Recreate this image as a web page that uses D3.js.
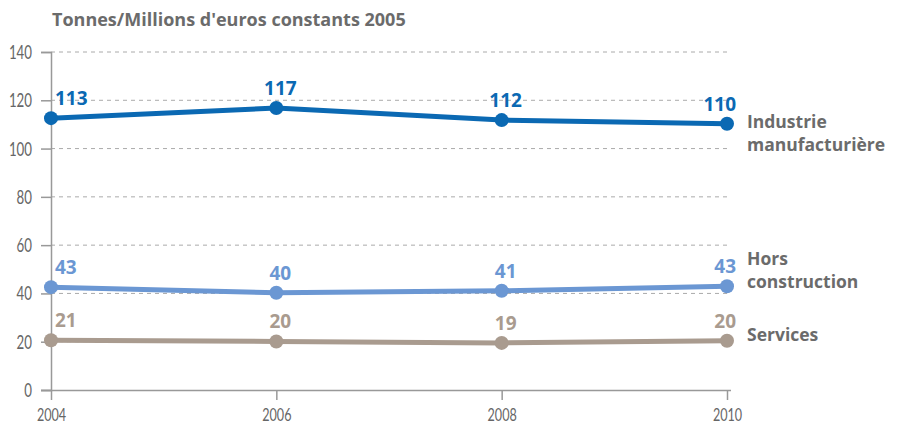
<!DOCTYPE html>
<html>
<head>
<meta charset="utf-8">
<script src="https://cdn.jsdelivr.net/npm/d3@7"></script>
<style>
  body { margin: 0; background: #fff; }
  text { font-family: "Open Sans", Lato, sans-serif; }
  .tick-lbl { font-family: Lato, sans-serif; }
</style>
</head>
<body>
<div id="chart"></div>
<script>
const svgWidth = 903;
const svgHeight = 427;

const years = [2004, 2006, 2008, 2010];
const yTicks = [0, 20, 40, 60, 80, 100, 120, 140];

const industrie = [112.6, 116.8, 111.8, 110.3];
const horsConstruction = [42.6, 40.3, 41.1, 43.0];
const services = [20.6, 20.1, 19.5, 20.4];

const industrieLabels = ['113', '117', '112', '110'];
const horsLabels = ['43', '40', '41', '43'];
const servicesLabels = ['21', '20', '19', '20'];

const series = [
    { name: ['Industrie', 'manufacturière'], values: industrie, labels: industrieLabels, color: '#0b69b3', legendY: 128 },
    { name: ['Hors', 'construction'], values: horsConstruction, labels: horsLabels, color: '#6b97d3', legendY: 265 },
    { name: ['Services'], values: services, labels: servicesLabels, color: '#a99b8f', legendY: 341 }
];

const x = d3.scaleLinear().domain([2004, 2010]).range([51, 727]);
const y = d3.scaleLinear().domain([0, 140]).range([390, 52]);

const narrow = 0.7;

const svg = d3.select('#chart')
    .append('svg')
    .attr('width', svgWidth)
    .attr('height', svgHeight);

// title
svg.append('text')
    .attr('x', 52)
    .attr('y', 26)
    .attr('fill', '#6b6b6b')
    .attr('font-size', 18)
    .attr('font-weight', 'bold')
    .text("Tonnes/Millions d'euros constants 2005");

// dashed grid
svg.append('g').selectAll('line')
    .data(yTicks.filter(d => d > 0))
    .join('line')
    .attr('x1', 51).attr('x2', 731)
    .attr('y1', d => y(d)).attr('y2', d => y(d))
    .attr('stroke', '#aaa')
    .attr('stroke-width', 1)
    .attr('stroke-dasharray', '4,4');

// y axis
const yAxis = svg.append('g')
    .attr('transform', 'translate(51,0)')
    .call(d3.axisLeft(y).tickValues(yTicks).tickSize(10));
yAxis.select('.domain').attr('stroke', '#999').attr('stroke-width', 1.5);
yAxis.selectAll('.tick line').attr('stroke', '#999').attr('stroke-width', 1.5);
yAxis.selectAll('.tick text')
    .attr('class', 'tick-lbl')
    .attr('fill', '#666')
    .attr('font-size', 19)
    .attr('x', -19 / narrow)
    .attr('dy', '0.34em')
    .attr('transform', `scale(${narrow},1)`);

// x axis
const xAxis = svg.append('g')
    .attr('transform', `translate(0,${y(0)})`)
    .call(d3.axisBottom(x).tickValues(years).tickFormat(d3.format('d')).tickSize(10));
xAxis.select('.domain').attr('d', 'M41,0.5H731').attr('stroke', '#999').attr('stroke-width', 1.5);
xAxis.selectAll('.tick line').attr('stroke', '#999').attr('stroke-width', 1.5);
xAxis.selectAll('.tick text')
    .attr('class', 'tick-lbl')
    .attr('fill', '#666')
    .attr('font-size', 18)
    .attr('y', 31)
    .attr('dy', 0)
    .attr('transform', `scale(${narrow},1)`);

const line = d3.line()
    .x((d, i) => x(years[i]))
    .y(d => y(d));

series.forEach(s => {
    const g = svg.append('g');
    g.append('path')
        .datum(s.values)
        .attr('d', line)
        .attr('fill', 'none')
        .attr('stroke', s.color)
        .attr('stroke-width', 5);
    g.selectAll('circle')
        .data(s.values)
        .join('circle')
        .attr('cx', (d, i) => x(years[i]))
        .attr('cy', d => y(d))
        .attr('r', 7)
        .attr('fill', s.color);
    g.selectAll('text.val')
        .data(s.values)
        .join('text')
        .attr('class', 'val')
        .attr('x', (d, i) => i === 0 ? x(years[i]) + 4 : i === years.length - 1 ? x(years[i]) + 9 : x(years[i]) + 4)
        .attr('y', d => y(d) - 13)
        .attr('text-anchor', (d, i) => i === 0 ? 'start' : i === years.length - 1 ? 'end' : 'middle')
        .attr('fill', s.color)
        .attr('font-size', 19)
        .attr('font-weight', 'bold')
        .text((d, i) => s.labels[i]);
    g.selectAll('text.leg')
        .data(s.name)
        .join('text')
        .attr('class', 'leg')
        .attr('x', 747)
        .attr('y', (d, i) => s.legendY + i * 23)
        .attr('fill', '#6b6b6b')
        .attr('font-size', 17.5)
        .attr('font-weight', 'bold')
        .text(d => d);
});
</script>
</body>
</html>
